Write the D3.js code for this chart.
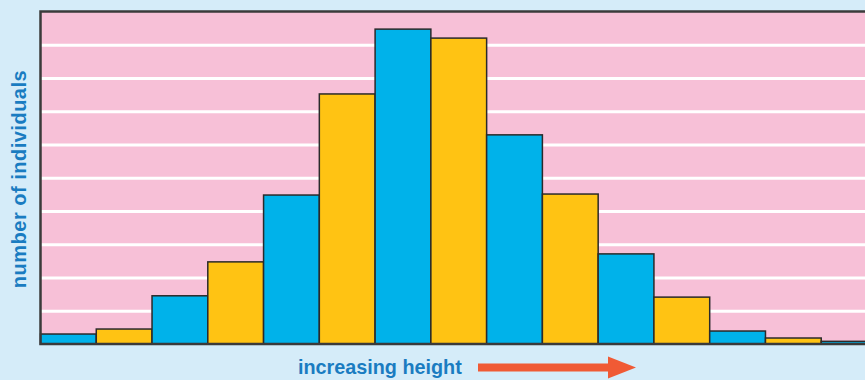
<!DOCTYPE html>
<html>
<head>
<meta charset="utf-8">
<script src="https://cdn.jsdelivr.net/npm/d3@7"></script>
<style>
  body { margin: 0; background: #d5ecf9; overflow: hidden; }
  svg { display: block; }
</style>
</head>
<body>
<div id="chart"></div>
<script>
// height classes, shortest to tallest (no labels in the original)
var heightClasses = d3.range(15);
// number of individuals in each class, in gridline units
var counts = [0.3, 0.45, 1.45, 2.47, 4.48, 7.52, 9.47, 9.2, 6.29, 4.51, 2.71, 1.41, 0.39, 0.18, 0.08];
var gridTicks = d3.range(1, 10);

var width = 865, height = 380;
var margin = { top: 11.5, left: 40.5, bottom: 36 };
var plotRight = 877;   // the last bar runs past the edge of the picture

var svg = d3.select("#chart").append("svg")
    .attr("width", width)
    .attr("height", height);

var x = d3.scaleBand()
    .domain(heightClasses)
    .range([margin.left, plotRight])
    .padding(0);

var y = d3.scaleLinear()
    .domain([0, 10])
    .range([height - margin.bottom, margin.top]);

// pink plot area
svg.append("rect")
    .attr("x", margin.left)
    .attr("y", y(10))
    .attr("width", plotRight - margin.left)
    .attr("height", y(0) - y(10))
    .attr("fill", "#f7c0d7");

// white gridlines
var yGrid = d3.axisLeft(y)
    .tickValues(gridTicks)
    .tickSize(-(plotRight - margin.left))
    .tickFormat("");

svg.append("g")
    .attr("class", "grid")
    .attr("transform", "translate(" + margin.left + ",0)")
    .call(yGrid)
    .call(function (g) { g.select(".domain").remove(); })
    .selectAll("line")
    .attr("stroke", "#ffffff")
    .attr("stroke-width", 3);

// bars
svg.append("g")
    .selectAll("rect")
    .data(counts)
    .join("rect")
    .attr("x", function (d, i) { return x(i); })
    .attr("y", function (d) { return y(d); })
    .attr("width", x.bandwidth())
    .attr("height", function (d) { return y(0) - y(d); })
    .attr("fill", function (d, i) { return i % 2 == 0 ? "#00b2ea" : "#ffc313"; })
    .attr("stroke", "#2a2a2a")
    .attr("stroke-width", 1.5);

// frame: top, left and bottom
svg.append("path")
    .attr("d", "M" + (plotRight) + "," + y(10) + "H" + margin.left + "V" + y(0) + "H" + plotRight)
    .attr("fill", "none")
    .attr("stroke", "#3a3a3a")
    .attr("stroke-width", 2.5);

// axis titles
svg.append("text")
    .attr("transform", "translate(26,179) rotate(-90)")
    .attr("text-anchor", "middle")
    .attr("font-family", "Liberation Sans, Arial, sans-serif")
    .attr("font-weight", "bold")
    .attr("font-size", 20)
    .attr("letter-spacing", 0.5)
    .attr("fill", "#1a7cc1")
    .text("number of individuals");

svg.append("text")
    .attr("x", 298)
    .attr("y", 373.5)
    .attr("font-family", "Liberation Sans, Arial, sans-serif")
    .attr("font-weight", "bold")
    .attr("font-size", 19.8)
    .attr("fill", "#1a7cc1")
    .text("increasing height");

// red arrow
var arrow = svg.append("g").attr("fill", "#f05a35");
arrow.append("rect")
    .attr("x", 478).attr("y", 363.5)
    .attr("width", 132).attr("height", 8);
arrow.append("path")
    .attr("d", "M608,356.5 L636,367.5 L608,378.5 Z");
</script>
</body>
</html>
